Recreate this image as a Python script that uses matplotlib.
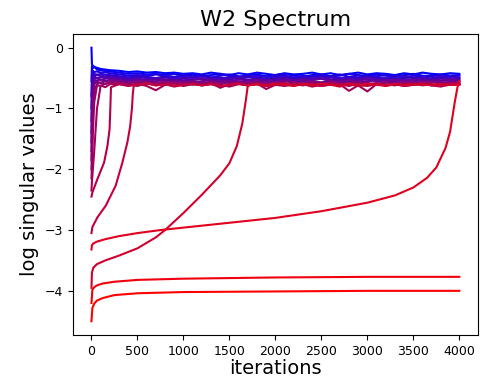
import matplotlib
matplotlib.use("Agg")
import matplotlib.pyplot as plt

# iteration grids for the lines that sit in the noisy band
EARLY_ITERS = [0, 5, 15, 30, 60, 100, 150, 200]
LATE_ITERS = list(range(300, 4001, 100))

# band lines, largest singular value first (early part, late part)
band_early = [
    [0.00, -0.27, -0.30, -0.32, -0.33, -0.35, -0.36, -0.37],
    [-0.55, -0.30, -0.34, -0.31, -0.36, -0.37, -0.38, -0.39],
    [-0.80, -0.45, -0.38, -0.40, -0.39, -0.41, -0.40, -0.42],
    [-1.00, -0.60, -0.42, -0.43, -0.45, -0.43, -0.44, -0.45],
    [-1.20, -0.75, -0.48, -0.46, -0.44, -0.47, -0.46, -0.47],
    [-1.40, -0.90, -0.55, -0.47, -0.50, -0.48, -0.49, -0.48],
    [-1.55, -1.10, -0.62, -0.52, -0.50, -0.53, -0.51, -0.50],
    [-1.70, -1.30, -0.70, -0.55, -0.54, -0.52, -0.55, -0.53],
    [-1.85, -1.50, -0.85, -0.60, -0.56, -0.58, -0.55, -0.54],
    [-2.00, -1.70, -1.10, -0.70, -0.60, -0.57, -0.60, -0.56],
    [-2.15, -1.95, -1.40, -0.90, -0.62, -0.63, -0.59, -0.58],
    [-2.35, -2.20, -2.00, -1.70, -1.00, -0.62, -0.65, -0.60],
]

band_late = [
    [-0.38, -0.40, -0.39, -0.41, -0.40, -0.42, -0.41, -0.43, -0.42, -0.44,
     -0.41, -0.43, -0.45, -0.42, -0.44, -0.41, -0.43, -0.45, -0.42, -0.44,
     -0.43, -0.41, -0.44, -0.42, -0.45, -0.43, -0.41, -0.44, -0.42, -0.43,
     -0.45, -0.42, -0.44, -0.41, -0.43, -0.44, -0.42, -0.43],
    [-0.41, -0.43, -0.42, -0.44, -0.43, -0.45, -0.43, -0.46, -0.44, -0.47,
     -0.45, -0.43, -0.46, -0.48, -0.45, -0.44, -0.47, -0.45, -0.43, -0.46,
     -0.48, -0.45, -0.44, -0.47, -0.46, -0.43, -0.45, -0.47, -0.44, -0.46,
     -0.48, -0.45, -0.43, -0.46, -0.47, -0.44, -0.46, -0.45],
    [-0.44, -0.46, -0.45, -0.47, -0.44, -0.46, -0.48, -0.45, -0.47, -0.46,
     -0.49, -0.46, -0.44, -0.47, -0.49, -0.46, -0.48, -0.45, -0.47, -0.49,
     -0.46, -0.48, -0.45, -0.47, -0.44, -0.48, -0.46, -0.49, -0.47, -0.45,
     -0.47, -0.49, -0.46, -0.48, -0.45, -0.47, -0.48, -0.46],
    [-0.47, -0.49, -0.46, -0.48, -0.50, -0.47, -0.49, -0.48, -0.50, -0.47,
     -0.49, -0.51, -0.48, -0.50, -0.47, -0.49, -0.51, -0.48, -0.46, -0.50,
     -0.48, -0.50, -0.47, -0.49, -0.51, -0.48, -0.50, -0.47, -0.49, -0.51,
     -0.48, -0.46, -0.50, -0.48, -0.51, -0.49, -0.47, -0.49],
    [-0.49, -0.51, -0.48, -0.50, -0.52, -0.49, -0.51, -0.50, -0.48, -0.52,
     -0.50, -0.49, -0.52, -0.50, -0.48, -0.51, -0.53, -0.50, -0.49, -0.51,
     -0.52, -0.49, -0.51, -0.48, -0.50, -0.52, -0.50, -0.48, -0.51, -0.50,
     -0.53, -0.50, -0.49, -0.52, -0.50, -0.48, -0.51, -0.50],
    [-0.50, -0.52, -0.51, -0.53, -0.50, -0.52, -0.54, -0.51, -0.53, -0.50,
     -0.52, -0.54, -0.51, -0.49, -0.53, -0.51, -0.54, -0.52, -0.50, -0.53,
     -0.51, -0.53, -0.50, -0.52, -0.54, -0.51, -0.53, -0.50, -0.52, -0.54,
     -0.51, -0.53, -0.52, -0.50, -0.53, -0.51, -0.52, -0.51],
    [-0.52, -0.54, -0.53, -0.55, -0.52, -0.54, -0.53, -0.56, -0.53, -0.51,
     -0.55, -0.53, -0.56, -0.52, -0.54, -0.56, -0.53, -0.55, -0.52, -0.54,
     -0.56, -0.53, -0.51, -0.55, -0.53, -0.56, -0.54, -0.52, -0.55, -0.53,
     -0.56, -0.54, -0.52, -0.55, -0.53, -0.54, -0.52, -0.53],
    [-0.54, -0.56, -0.53, -0.57, -0.55, -0.53, -0.56, -0.54, -0.57, -0.55,
     -0.53, -0.56, -0.54, -0.57, -0.55, -0.53, -0.56, -0.58, -0.54, -0.56,
     -0.53, -0.55, -0.57, -0.54, -0.56, -0.53, -0.57, -0.55, -0.54, -0.56,
     -0.53, -0.57, -0.55, -0.54, -0.56, -0.55, -0.53, -0.55],
    [-0.55, -0.58, -0.56, -0.54, -0.57, -0.59, -0.56, -0.58, -0.55, -0.57,
     -0.59, -0.56, -0.58, -0.55, -0.57, -0.60, -0.56, -0.58, -0.55, -0.57,
     -0.59, -0.56, -0.58, -0.55, -0.57, -0.59, -0.56, -0.58, -0.60, -0.56,
     -0.58, -0.55, -0.57, -0.59, -0.56, -0.58, -0.56, -0.57],
    [-0.57, -0.59, -0.56, -0.60, -0.58, -0.56, -0.59, -0.57, -0.61, -0.58,
     -0.56, -0.59, -0.57, -0.60, -0.58, -0.56, -0.60, -0.57, -0.59, -0.62,
     -0.58, -0.56, -0.59, -0.57, -0.60, -0.58, -0.56, -0.59, -0.61, -0.57,
     -0.59, -0.57, -0.60, -0.58, -0.56, -0.59, -0.58, -0.57],
    [-0.58, -0.60, -0.63, -0.58, -0.61, -0.59, -0.57, -0.62, -0.59, -0.61,
     -0.58, -0.66, -0.60, -0.58, -0.61, -0.59, -0.62, -0.58, -0.60, -0.57,
     -0.61, -0.59, -0.62, -0.58, -0.60, -0.63, -0.59, -0.61, -0.58, -0.60,
     -0.62, -0.59, -0.61, -0.58, -0.60, -0.62, -0.59, -0.60],
    [-0.60, -0.62, -0.59, -0.63, -0.70, -0.61, -0.59, -0.63, -0.60, -0.62,
     -0.59, -0.61, -0.64, -0.60, -0.62, -0.59, -0.68, -0.61, -0.63, -0.60,
     -0.62, -0.59, -0.63, -0.61, -0.60, -0.71, -0.62, -0.72, -0.60, -0.62,
     -0.59, -0.63, -0.61, -0.60, -0.62, -0.64, -0.60, -0.61],
]

# lines that climb into the band late
f_iters = [0, 10, 65, 137, 173, 197, 205, 212]
f_vals = [-2.45, -2.38, -2.16, -1.89, -1.62, -1.34, -1.00, -0.65]
f_late = [-0.60, -0.63, -0.61, -0.58, -0.62, -0.60, -0.64, -0.61, -0.59, -0.62,
          -0.60, -0.63, -0.61, -0.59, -0.62, -0.60, -0.63, -0.61, -0.58, -0.62,
          -0.60, -0.64, -0.61, -0.59, -0.62, -0.60, -0.63, -0.61, -0.59, -0.62,
          -0.60, -0.63, -0.61, -0.59, -0.62, -0.60, -0.61, -0.60]

e_iters = [0, 10, 65, 155, 263, 336, 390, 420, 440, 450, 460]
e_vals = [-3.05, -2.95, -2.79, -2.60, -2.27, -1.89, -1.56, -1.30, -1.00, -0.75, -0.62]
e_late = [-0.61, -0.59, -0.62, -0.60, -0.63, -0.61, -0.59, -0.62, -0.60, -0.64,
          -0.61, -0.59, -0.62, -0.60, -0.63, -0.61, -0.60, -0.62, -0.59, -0.61,
          -0.63, -0.60, -0.62, -0.59, -0.61, -0.63, -0.60, -0.62, -0.60, -0.61,
          -0.59, -0.62, -0.60, -0.63, -0.61, -0.60]

c_iters = [0, 5, 20, 60, 150, 300, 500, 700, 800, 1000, 1200, 1400, 1500,
           1580, 1640, 1680, 1700]
c_vals = [-3.95, -3.70, -3.62, -3.56, -3.50, -3.42, -3.30, -3.12, -3.00, -2.72,
          -2.42, -2.10, -1.90, -1.62, -1.25, -0.85, -0.62]
c_late = [-0.60, -0.62, -0.59, -0.61, -0.63, -0.60, -0.62, -0.59, -0.61, -0.64,
          -0.60, -0.62, -0.59, -0.61, -0.63, -0.60, -0.62, -0.61, -0.59, -0.62,
          -0.60, -0.61, -0.60]

d_iters = [0, 5, 20, 60, 150, 300, 500, 750, 1000, 1500, 2000, 2500, 3000,
           3300, 3500, 3650, 3750, 3850, 3900, 3950, 3980, 4000]
d_vals = [-3.32, -3.25, -3.22, -3.19, -3.15, -3.10, -3.05, -3.00, -2.96, -2.88,
          -2.80, -2.69, -2.55, -2.43, -2.30, -2.14, -1.97, -1.65, -1.38, -0.90,
          -0.65, -0.55]

# the two smallest values never recover
low_iters = [0, 10, 30, 60, 120, 250, 500, 1000, 2000, 3000, 4000]
b_vals = [-4.20, -3.98, -3.94, -3.91, -3.88, -3.85, -3.82, -3.80, -3.78, -3.77, -3.77]
a_vals = [-4.50, -4.28, -4.21, -4.16, -4.12, -4.07, -4.04, -4.02, -4.01, -4.00, -4.00]


def build_lines():
    lines = []
    for early, late in zip(band_early, band_late):
        lines.append((EARLY_ITERS + LATE_ITERS, early + late))
    lines.append((f_iters + LATE_ITERS, f_vals + f_late))
    lines.append((e_iters + LATE_ITERS[2:], e_vals + e_late))
    lines.append((c_iters + LATE_ITERS[15:], c_vals + c_late))
    lines.append((d_iters, d_vals))
    lines.append((low_iters, b_vals))
    lines.append((low_iters, a_vals))
    return lines


def main():
    fig = plt.figure(figsize=(4.84, 3.78), dpi=100)
    ax = fig.add_axes([0.151, 0.114, 0.836, 0.796])
    lines = build_lines()
    n = len(lines)
    for i, (x, y) in enumerate(lines):
        t = i / (n - 1)
        ax.plot(x, y, color=(t, 0, 1 - t), lw=1.5)
    ax.set_title("W2 Spectrum", fontsize=16)
    ax.set_xlabel("iterations", fontsize=14, labelpad=1)
    ax.set_ylabel("log singular values", fontsize=14)
    ax.set_xticks([0, 500, 1000, 1500, 2000, 2500, 3000, 3500, 4000])
    ax.set_yticks([0, -1, -2, -3, -4])
    ax.tick_params(labelsize=9)
    fig.savefig("out.png", dpi=100)


if __name__ == '__main__':
    main()
